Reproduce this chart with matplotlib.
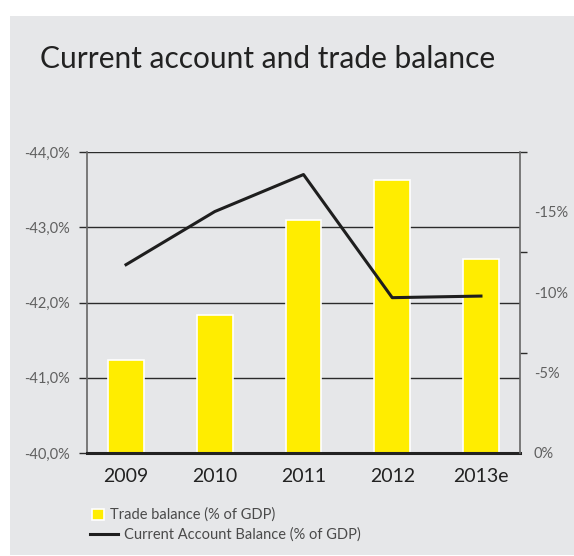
import matplotlib
matplotlib.use("Agg")
import matplotlib.pyplot as plt
from matplotlib.patches import Rectangle

years = ["2009", "2010", "2011", "2012", "2013e"]
trade_balance = [-41.24, -41.83, -43.10, -43.63, -42.58]      # % of GDP, left axis
current_account = [-11.7, -15.0, -17.3, -9.65, -9.75]          # % of GDP, right axis

left_ticks = [-40, -41, -42, -43, -44]
left_labels = ["-40,0%", "-41,0%", "-42,0%", "-43,0%", "-44,0%"]
right_ticks = [0, -5, -10, -15]
right_labels = ["0%", "-5%", "-10%", "-15%"]

BG = "#e6e7e9"
YELLOW = "#ffed00"
FONT = "Lato"

W, H = 574, 556
fig = plt.figure(figsize=(W / 100, H / 100), dpi=100, facecolor="white")
# grey panel behind everything
fig.patches.append(Rectangle((10 / W, 1 / H), 1 - 10 / W, (555 - 16) / H,
                             transform=fig.transFigure, facecolor=BG,
                             edgecolor="none", zorder=-10))

fig.text(40 / W, 1 - 68 / H, "Current account and trade balance",
         fontsize=21.5, family=FONT, color="#222222", va="baseline")

ax = fig.add_axes([87 / W, 1 - 453 / H, (520 - 87) / W, (453 - 152) / H])
ax.set_facecolor("none")

x = list(range(len(years)))
base = -40
bars = ax.bar(x, [v - base for v in trade_balance], bottom=base, width=0.4,
              color=YELLOW, edgecolor="white", linewidth=1.2, zorder=3,
              label="Trade balance (% of GDP)")
ax.set_xlim(-0.44, 4.44)
ax.set_ylim(-40, -44)
ax.set_yticks(left_ticks)
ax.set_yticklabels(left_labels)
ax.yaxis.grid(True, color="#2b2b2b", linewidth=1.0, zorder=1)
ax.set_axisbelow(True)
ax.set_xticks(x)
ax.set_xticklabels(years)

ax.tick_params(axis="x", length=0, pad=11, labelsize=14, labelcolor="#222222")
ax.tick_params(axis="y", length=6, width=1, color="#2b2b2b", pad=6,
               labelsize=10.5, labelcolor="#606060")
for lab in ax.get_xticklabels() + ax.get_yticklabels():
    lab.set_family(FONT)

ax.spines["top"].set_visible(False)
ax.spines["left"].set_color("#666666")
ax.spines["left"].set_linewidth(1.2)
ax.spines["right"].set_visible(False)
ax.spines["bottom"].set_color("#222222")
ax.spines["bottom"].set_linewidth(2.2)
ax.spines["bottom"].set_zorder(5)

ax2 = ax.twinx()
ax2.set_facecolor("none")
line, = ax2.plot(x, current_account, color="#1e1e1e", linewidth=2.2, zorder=4,
                 label="Current Account Balance (% of GDP)")
ax2.set_ylim(0, -18.7)
ax2.set_yticks(right_ticks)
ax2.set_yticklabels(right_labels)
ax2.set_yticks([0, -18.7 / 3, -2 * 18.7 / 3, -18.7], minor=True)
ax2.tick_params(axis="y", which="major", length=0, pad=10,
                labelsize=10.5, labelcolor="#606060")
ax2.tick_params(axis="y", which="minor", length=5, width=1, color="#2b2b2b")
for lab in ax2.get_yticklabels():
    lab.set_family(FONT)
for s in ["top", "left", "bottom"]:
    ax2.spines[s].set_visible(False)
ax2.spines["right"].set_color("#666666")
ax2.spines["right"].set_linewidth(1.2)

legend_font = {"family": FONT, "size": 10.5}
leg1 = fig.legend([bars], ["Trade balance (% of GDP)"], loc="center left",
                  bbox_to_anchor=(92 / W, 1 - 515 / H), frameon=False,
                  borderpad=0, borderaxespad=0, handlelength=0.8,
                  handleheight=0.8, handletextpad=0.4, prop=legend_font)
leg2 = fig.legend([line], ["Current Account Balance (% of GDP)"], loc="center left",
                  bbox_to_anchor=(90 / W, 1 - 535 / H), frameon=False,
                  borderpad=0, borderaxespad=0, handlelength=1.95,
                  handletextpad=0.4, prop=legend_font)
for leg in (leg1, leg2):
    for t in leg.get_texts():
        t.set_color("#4a4a4a")

fig.savefig("out.png", dpi=100, facecolor="white")
